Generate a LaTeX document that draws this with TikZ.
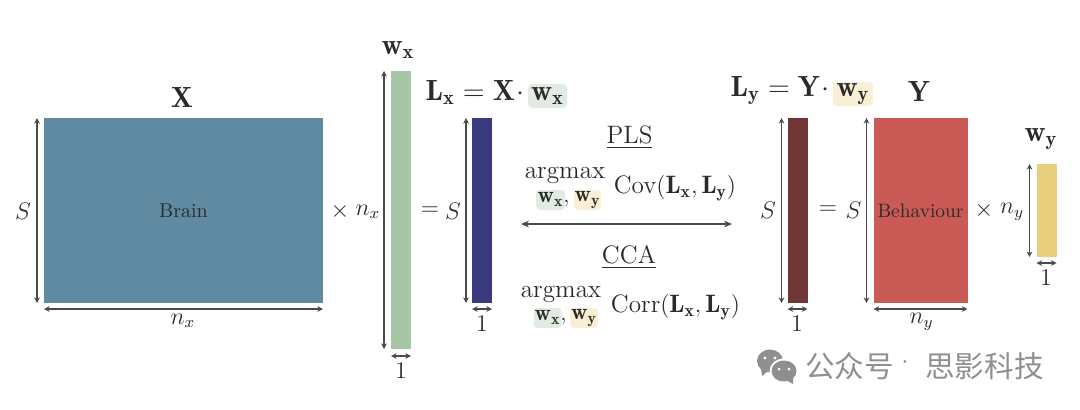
\documentclass[tikz,border=0pt]{standalone}
\usepackage{fontspec}
\newfontfamily\cjkfont{Noto Sans CJK SC}
\usetikzlibrary{arrows.meta}
\definecolor{ink}{HTML}{2A2A2A}
\definecolor{brainc}{HTML}{5F8AA1}
\definecolor{greenc}{HTML}{A7C6A3}
\definecolor{bluec}{HTML}{393A80}
\definecolor{darkc}{HTML}{703535}
\definecolor{redc}{HTML}{C95A56}
\definecolor{yellowc}{HTML}{E8CF7C}
\definecolor{hlg}{HTML}{E2EBE1}
\definecolor{hly}{HTML}{F9EFD4}
\definecolor{wm}{HTML}{8F8F8F}
\newcommand{\szH}{\fontsize{14.6}{17}\selectfont}
\newcommand{\szA}{\fontsize{12.6}{15}\selectfont}
\newcommand{\szB}{\fontsize{11.5}{13}\selectfont}
\newcommand{\szC}{\fontsize{11.4}{13}\selectfont}
\tikzset{
  blk/.style={inner sep=0pt,outer sep=0pt,text=ink},
  dim/.style={draw=ink!85,line width=0.65pt,{Stealth[length=2.8pt,width=2.8pt]}-{Stealth[length=2.8pt,width=2.8pt]}},
  lab/.style={inner sep=0pt,text=ink,font=\szB},
  big/.style={inner sep=0pt,text=ink,font=\szA},
  head/.style={inner sep=0pt,text=ink,font=\szH},
  hl/.style={inner sep=0pt,rounded corners=2pt,minimum height=10pt,text=ink,font=\szC},
  wmt/.style={inner sep=0pt,text=wm,font=\cjkfont\fontsize{14.8}{16}\selectfont},
}
\begin{document}
\begin{tikzpicture}[x=0.5pt,y=-0.5pt]
\useasboundingbox (0,0) rectangle (1080,409);
% matrices and vectors
\node[blk,fill=brainc,minimum width=139.5pt,minimum height=92.5pt,font=\fontsize{10}{12}\selectfont] (X) at (183.5,210.5) {Brain};
\node[blk,fill=greenc,minimum width=10pt,minimum height=139pt] (wx) at (401,210) {};
\node[blk,fill=bluec,minimum width=10pt,minimum height=92.5pt] (Lx) at (482,210.5) {};
\node[blk,fill=darkc,minimum width=10pt,minimum height=92.5pt] (Ly) at (797.5,210.5) {};
\node[blk,fill=redc,minimum width=47pt,minimum height=92.5pt,font=\fontsize{9.7}{11}\selectfont] (Y) at (920.5,210.5) {Behaviour};
\node[blk,fill=yellowc,minimum width=10pt,minimum height=46.5pt] (wy) at (1046.5,210.5) {};
% dimension arrows
\draw[dim] ([xshift=-3.5pt]X.north west) -- ([xshift=-3.5pt]X.south west);
\draw[dim] ([yshift=-3pt]X.south west) -- ([yshift=-3pt]X.south east);
\draw[dim] ([xshift=-3.5pt]wx.north west) -- ([xshift=-3.5pt]wx.south west);
\draw[dim] ([yshift=-3.5pt]wx.south west) -- ([yshift=-3.5pt]wx.south east);
\draw[dim] ([xshift=-3pt]Lx.north west) -- ([xshift=-3pt]Lx.south west);
\draw[dim] ([yshift=-3pt]Lx.south west) -- ([yshift=-3pt]Lx.south east);
\draw[dim] ([xshift=-3pt]Ly.north west) -- ([xshift=-3pt]Ly.south west);
\draw[dim] ([yshift=-3pt]Ly.south west) -- ([yshift=-3pt]Ly.south east);
\draw[dim] ([xshift=-3.5pt]Y.north west) -- ([xshift=-3.5pt]Y.south west);
\draw[dim] ([yshift=-3pt]Y.south west) -- ([yshift=-3pt]Y.south east);
\draw[dim] ([xshift=-3.5pt]wy.north west) -- ([xshift=-3.5pt]wy.south west);
\draw[dim] ([yshift=-3pt]wy.south west) -- ([yshift=-3pt]wy.south east);
% labels left
\node[head] (tX) at (182,97) {$\mathbf{X}$};
\node[lab] (sX) at (23,211) {$S$};
\node[lab] (nX) at (183,321) {$n_x$};
\node[lab] (tm1) at (340,211) {$\times$};
\node[lab] (nx2) at (368,212) {$n_x$};
\node[head] (twx) at (398,50) {$\mathbf{w_x}$};
\node[lab] (one1) at (401,371) {$1$};
\node[lab] (eq1) at (430,211) {$=$};
\node[lab] (s2) at (453,211) {$S$};
\node[lab] (one2) at (482,324) {$1$};
% equation for Lx
\node[hl,fill=hlg,minimum width=19.5pt,minimum height=12pt,font=\szH] (hx) at (547.5,96) {$\mathbf{w_x}$};
\node[head,anchor=base east] (eqx) at ([xshift=-0.5pt]hx.base west) {$\mathbf{L_x}=\mathbf{X}\mkern1mu\cdot\mkern1mu$};
% centre
\node[big] (pls) at (629.5,137) {\underline{PLS}};
\node[big] (am1) at (565,175) {argmax};
\node[hl,fill=hlg,minimum width=14.5pt] (a1) at (550.5,200) {$\mathbf{w_x}$\rlap{,}};
\node[hl,fill=hly,minimum width=13.5pt] (b1) at (587.5,200) {$\mathbf{w_y}$};
\node[big] (cov) at (675,188) {Cov$(\mathbf{L_x},\mathbf{L_y})$};
\coordinate (al) at (521,224);
\coordinate (ar) at (732,224);
\draw[dim,{Stealth[length=4pt,width=3.4pt]}-{Stealth[length=4pt,width=3.4pt]}] (al) -- (ar);
\node[big] (cca) at (629,257) {\underline{CCA}};
\node[big] (am2) at (561,294) {argmax};
\node[hl,fill=hlg,minimum width=14pt] (a2) at (547.5,318) {$\mathbf{w_x}$\rlap{,}};
\node[hl,fill=hly,minimum width=14pt] (b2) at (584,318) {$\mathbf{w_y}$};
\node[big] (cor) at (675.5,307) {Corr$(\mathbf{L_x},\mathbf{L_y})$};
% equation for Ly
\node[hl,fill=hly,minimum width=20pt,minimum height=12pt,font=\szH] (hy) at (853,94) {$\mathbf{w_y}$};
\node[head,anchor=base east] (eqy) at ([xshift=-0.5pt]hy.base west) {$\mathbf{L_y}=\mathbf{Y}\mkern1mu\cdot\mkern1mu$};
\node[head] (tY) at (919,91) {$\mathbf{Y}$};
% labels right
\node[lab] (s3) at (768,210) {$S$};
\node[lab] (one3) at (797,324) {$1$};
\node[lab] (eq2) at (828,210) {$=$};
\node[lab] (s4) at (853.5,210) {$S$};
\node[lab] (ny) at (921.5,322) {$n_y$};
\node[lab] (tm2) at (984,210) {$\times$};
\node[lab] (ny2) at (1012,212) {$n_y$};
\node[head] (twy) at (1041,139) {$\mathbf{w_y}$};
\node[lab] (one4) at (1046,278) {$1$};
% watermark
\fill[wm] (770,361) ellipse (13 and 11.5);
\fill[wm] (762,376) -- (761,368) -- (768,371) -- cycle;
\fill[white] (784,371) ellipse (14.5 and 12.5);
\fill[wm] (784,371) ellipse (12.5 and 10.5);
\fill[wm] (793,384) -- (793,377) -- (786,380) -- cycle;
\fill[white] (765,358) circle (1.7) (775,358) circle (1.7) (779,369) circle (1.5) (789,369) circle (1.5);
\node[wmt] (wm1) at (849.5,366) {公众号};
\node[inner sep=0pt,text=wm,font=\fontsize{14}{16}\selectfont] (wm2) at (905,366) {·};
\node[wmt] (wm3) at (984.5,366) {思影科技};
\end{tikzpicture}
\end{document}
